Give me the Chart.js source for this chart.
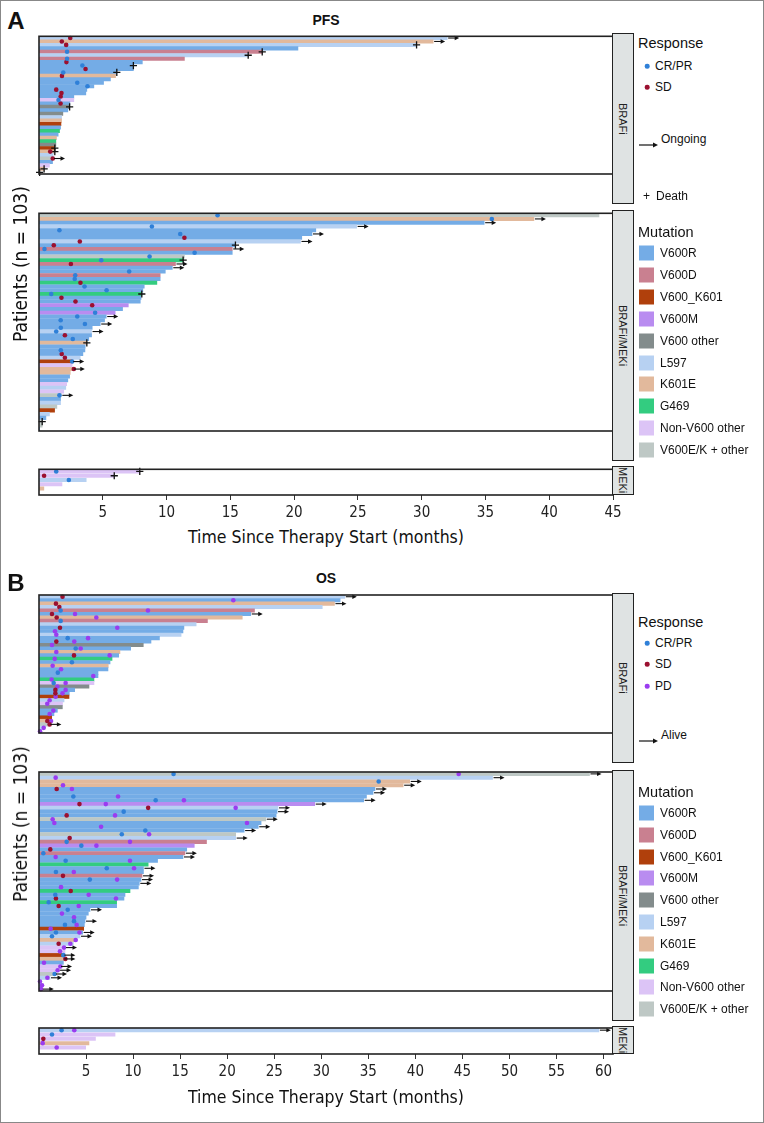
<!DOCTYPE html>
<html>
<head>
<meta charset="utf-8">
<title>Swimmer plot - PFS / OS</title>
<script src="https://cdn.jsdelivr.net/npm/chart.js@4.4.1/dist/chart.umd.min.js"></script>
<style>
  body { margin: 0; background: #fff; }
  #fig { position: relative; width: 764px; height: 1123px; font-family: 'Liberation Sans', Arial, sans-serif; color: #111; overflow: hidden; }
  #frame { position: absolute; left: 0; top: 0; width: 764px; height: 1123px; box-sizing: border-box; border: 1px solid #888; pointer-events: none; }
  .abs { position: absolute; }
  .strip { position: absolute; box-sizing: border-box; background: #dfe3e3; border: 1.6px solid #222; writing-mode: vertical-rl; display: flex; align-items: center; justify-content: center; font-size: 11px; color: #222; }
  .letter { position: absolute; font-weight: bold; font-size: 24px; transform: translate(-50%, -50%); }
  .ptitle { position: absolute; font-weight: bold; font-size: 14px; transform: translate(-50%, -50%); }
  .narrow { font-family: 'Liberation Sans Narrow', 'DejaVu Sans Condensed', sans-serif; }
  .ytitle { position: absolute; font-size: 19px; transform: translate(-50%, -50%) rotate(-90deg); white-space: nowrap; }
  .xtitle { position: absolute; font-size: 17.5px; transform: translate(-50%, -50%); white-space: nowrap; }
  .lg-title { position: absolute; font-size: 14.5px; transform: translateY(-50%); white-space: nowrap; }
  .lg-text { position: absolute; font-size: 12px; transform: translateY(-50%); white-space: nowrap; }
  .lg-dot { position: absolute; width: 4.6px; height: 4.6px; border-radius: 50%; transform: translate(-50%, -50%); }
  .lg-sw { position: absolute; width: 15px; height: 15px; transform: translateY(-50%); }
</style>
</head>
<body>
<div id="fig"><div id="frame"></div></div>
<script>
// mutation groups (code -> label, colour)
const mutCodes = ['R', 'D', 'K', 'M', 'O', 'L', 'E', 'G', 'N', 'X'];
const mutLabels = ['V600R', 'V600D', 'V600_K601', 'V600M', 'V600 other', 'L597', 'K601E', 'G469', 'Non-V600 other', 'V600E/K + other'];
const mutColors = ['#74ace6', '#c98090', '#b0400c', '#b98cf0', '#838c8c', '#b7d1f2', '#e2b99c', '#33cc80', '#dcc4f6', '#bec8c5'];

const respLabels = ['CR/PR', 'SD', 'PD'];
const respColors = ['#2f80d8', '#9b1030', '#9a3cf0'];

const xTicksPFS = [5, 10, 15, 20, 25, 30, 35, 40, 45];
const xMaxPFS = 45;
const xTicksOS = [5, 10, 15, 20, 25, 30, 35, 40, 45, 50, 55, 60];
const xMaxOS = 61;

// ---------- PFS ----------
const pfsBrafiMut = ['L','E','L','R','D','L','D','R','R','R', 'R','E','R','R','R','R','R','R','N','R',
                     'O','R','O','L','E','K','R','G','R','E', 'G','O','K','E','L','X','R','N','E','L'];
const pfsBrafiTime = [32.0,30.9,29.6,20.3,17.5,16.4,11.4,8.1,7.4,7.4, 6.1,6.0,5.6,5.06,4.3,3.75,3.67,2.73,2.73,2.42,
                      2.4,2.26,1.87,1.77,1.77,1.72,1.69,1.61,1.5,1.37, 1.32,1.32,1.24,1.24,1.11,1.1,1.06,0.82,0.4,0.05];
const pfsBrafiArrow = [1, 2, 36];
const pfsBrafiDeath = [3, 5, 6, 9, 11, 21, 33, 34, 39, 40];
const pfsBrafiDots = [[1,2.45,'SD'],[2,1.79,'SD'],[3,2.13,'SD'],[5,2.2,'CR/PR'],[7,2.2,'CR/PR'],[8,2.15,'SD'],
  [9,3.4,'CR/PR'],[10,3.65,'SD'],[11,1.9,'CR/PR'],[12,1.8,'SD'],[14,3.0,'CR/PR'],[15,3.8,'CR/PR'],[16,1.35,'SD'],
  [17,1.76,'SD'],[18,1.7,'SD'],[19,1.53,'CR/PR'],[20,1.69,'SD'],[34,0.88,'SD'],[36,1.08,'SD']];

const pfsComboMut = ['X','E','R','L','R','R','R','L','R','D', 'R','X','G','D','R','R','D','R','G','R',
                     'R','G','R','R','M','R','M','R','R','R', 'R','L','R','R','E','R','R','R','L','K',
                     'N','E','E','R','R','N','L','N','X','R', 'L','X','K','L','R','X','X','R'];
const pfsComboTime = [43.9,38.8,34.9,24.9,21.7,21.4,20.6,20.5,15.4,15.15, 15.15,11.4,11.3,10.7,10.45,9.9,9.5,9.5,9.24,8.25,
                      8.14,8.06,8.0,7.94,7.0,6.55,5.97,5.27,5.14,4.8, 4.17,4.12,4.12,3.9,3.75,3.62,3.6,3.44,3.23,2.6,
                      2.6,2.65,2.45,2.4,2.26,2.17,2.1,1.94,1.75,1.69, 1.69,1.4,1.22,0.82,0.54,0.25,0.25,0.05];
const pfsComboArrow = [2, 3, 4, 6, 8, 10, 14, 15, 28, 30, 32, 40, 42, 49];
const pfsComboDeath = [9, 13, 22, 35, 56];
const pfsComboDots = [[1,14.0,'CR/PR'],[2,35.5,'CR/PR'],[4,8.85,'CR/PR'],[5,1.6,'CR/PR'],[6,11.07,'CR/PR'],[7,11.4,'SD'],
  [8,3.2,'SD'],[9,1.16,'SD'],[10,0.43,'CR/PR'],[11,12.2,'CR/PR'],[12,8.67,'CR/PR'],[13,4.88,'CR/PR'],[14,2.5,'SD'],
  [16,7.07,'CR/PR'],[17,2.84,'CR/PR'],[18,2.8,'CR/PR'],[19,3.25,'SD'],[20,3.57,'CR/PR'],[21,5.3,'CR/PR'],[22,0.96,'CR/PR'],
  [23,1.76,'SD'],[24,2.86,'SD'],[25,4.17,'SD'],[27,4.4,'CR/PR'],[28,3.0,'CR/PR'],[29,1.7,'CR/PR'],[30,3.6,'CR/PR'],
  [31,1.71,'CR/PR'],[32,1.35,'CR/PR'],[33,2.03,'SD'],[34,2.65,'CR/PR'],[37,1.71,'CR/PR'],[38,1.78,'SD'],[39,2.03,'SD'],
  [40,2.6,'CR/PR'],[42,2.73,'SD'],[49,1.6,'CR/PR']];

const pfsMekiMut = ['N','N','L','N','E'];
const pfsMekiTime = [7.9, 5.9, 3.7, 1.8, 0.38];
const pfsMekiArrow = [];
const pfsMekiDeath = [1, 2];
const pfsMekiDots = [[1,1.35,'CR/PR'],[2,0.4,'SD'],[3,2.34,'CR/PR']];

// ---------- OS ----------
const osBrafiMut = ['L','R','E','L','D','R','E','D','L','R', 'R','L','R','R','O','R','E','R','G','R',
                    'E','R','R','R','G','N','O','R','R','K', 'L','N','O','R','R','K','E','X','L','N'];
const osBrafiTime = [32.5,32.0,31.4,30.1,22.9,22.5,21.6,17.9,16.7,15.4, 15.3,15.1,12.8,11.9,11.08,9.74,8.6,8.47,7.76,7.55,
                     7.36,7.33,6.27,6.27,5.84,5.84,5.31,3.79,3.22,3.19, 2.66,2.5,2.48,1.95,1.59,1.35,0.82,1.1,0.39,0.1];
const osBrafiArrow = [1, 3, 6, 38];
const osBrafiDeath = [];
const osBrafiDots = [[1,2.5,'SD'],[2,20.65,'PD'],[3,1.8,'SD'],[4,2.16,'SD'],[5,2.3,'CR/PR'],[5,11.58,'PD'],[6,1.38,'SD'],
  [6,3.83,'PD'],[7,1.88,'SD'],[7,6.09,'PD'],[8,2.3,'CR/PR'],[10,2.23,'SD'],[10,8.32,'PD'],[11,1.7,'PD'],[12,1.84,'PD'],
  [13,3.05,'CR/PR'],[13,5.21,'PD'],[14,1.84,'SD'],[14,3.75,'PD'],[15,1.38,'PD'],[16,3.9,'CR/PR'],[16,4.43,'PD'],
  [17,1.84,'PD'],[18,3.72,'SD'],[18,7.51,'PD'],[19,1.67,'PD'],[20,3.5,'CR/PR'],[21,1.45,'PD'],[22,2.34,'PD'],
  [23,2.0,'CR/PR'],[24,5.77,'PD'],[25,1.34,'PD'],[26,1.56,'CR/PR'],[26,2.83,'PD'],[27,1.95,'PD'],[28,1.74,'SD'],
  [28,2.83,'PD'],[29,1.74,'SD'],[29,2.5,'PD'],[30,1.77,'PD'],[31,1.13,'PD'],[32,0.88,'PD'],[34,1.52,'PD'],[35,1.13,'PD'],
  [37,0.88,'SD'],[37,1.28,'PD'],[38,1.13,'SD'],[39,0.5,'PD'],[40,0.11,'PD']];

const osComboMut = ['X','L','E','E','R','R','R','R','M','L', 'R','R','X','R','R','R','X','L','D','M',
                    'R','D','R','R','G','R','R','D','R','R', 'R','G','R','R','G','R','R','R','R','R',
                    'R','K','R','L','E','L','N','N','K','E', 'R','N','N','X','L','R','R','R'];
const osComboTime = [58.5,48.2,39.4,38.7,35.7,35.5,34.8,34.5,29.3,25.4, 25.3,25.2,24.1,23.6,23.3,21.8,20.9,20.9,17.8,16.5,
                     15.7,15.5,15.3,12.6,11.6,11.1,11.1,10.95,10.84,10.66, 10.56,9.67,9.14,9.03,8.25,8.25,5.42,5.24,5.0,4.89,
                     4.82,4.75,4.64,4.36,3.9,3.65,2.76,2.76,2.59,2.59, 2.59,2.23,2.13,1.7,1.17,0.1,0.3,0.3];
const osComboArrow = [1, 2, 3, 4, 5, 6, 8, 9, 10, 11, 13, 15, 16, 18, 22, 23, 26, 28, 29, 30, 37, 40, 43, 44, 47, 49, 50, 52, 53, 54, 55, 58];
const osComboDeath = [];
const osComboDots = [[1,14.3,'CR/PR'],[1,44.6,'PD'],[2,1.77,'PD'],[3,36.1,'CR/PR'],[4,2.55,'PD'],[5,1.88,'SD'],[5,3.5,'PD'],
  [7,3.65,'CR/PR'],[7,8.4,'PD'],[8,12.4,'CR/PR'],[8,15.4,'PD'],[9,4.3,'SD'],[9,7.1,'PD'],[10,11.6,'SD'],[10,20.9,'PD'],
  [11,9.0,'CR/PR'],[12,2.94,'SD'],[12,8.08,'PD'],[13,1.45,'PD'],[14,1.63,'PD'],[14,22.1,'PD'],[15,6.6,'PD'],[16,11.3,'CR/PR'],
  [17,8.8,'CR/PR'],[17,11.7,'PD'],[18,3.26,'SD'],[19,2.94,'CR/PR'],[19,9.67,'PD'],[20,4.5,'CR/PR'],[20,6.1,'PD'],[21,1.2,'SD'],
  [22,0.46,'CR/PR'],[23,1.77,'PD'],[24,2.83,'CR/PR'],[24,9.67,'PD'],[26,7.2,'CR/PR'],[26,10.1,'PD'],[27,1.8,'CR/PR'],
  [27,3.7,'PD'],[28,2.55,'SD'],[29,5.4,'CR/PR'],[29,8.3,'PD'],[31,2.34,'PD'],[32,3.37,'SD'],[33,1.73,'CR/PR'],[33,5.28,'PD'],
  [34,1.8,'SD'],[34,8.18,'PD'],[35,1.03,'CR/PR'],[36,2.09,'SD'],[36,4.22,'PD'],[37,3.05,'CR/PR'],[38,2.44,'PD'],[39,3.72,'PD'],
  [40,3.72,'CR/PR'],[41,2.76,'CR/PR'],[41,4.0,'PD'],[42,1.24,'PD'],[43,1.8,'CR/PR'],[43,4.3,'PD'],[44,1.38,'CR/PR'],
  [45,3.9,'PD'],[46,2.09,'SD'],[46,3.33,'PD'],[47,2.66,'PD'],[48,2.23,'PD'],[49,2.59,'CR/PR'],[50,2.8,'SD'],[51,0.53,'PD'],
  [52,2.27,'PD'],[53,1.98,'PD'],[54,1.66,'CR/PR'],[55,0.89,'PD'],[56,0.1,'PD'],[57,0.32,'PD'],[58,0.21,'PD']];

const osMekiMut = ['L','N','N','E','N'];
const osMekiTime = [59.5, 8.08, 6.0, 5.31, 4.96];
const osMekiArrow = [1];
const osMekiDeath = [];
const osMekiDots = [[1,2.4,'CR/PR'],[1,3.75,'PD'],[2,1.38,'CR/PR'],[3,0.46,'SD'],[4,0.39,'PD'],[5,1.88,'PD']];

const fig = document.getElementById('fig');
const narrowFont = "'Liberation Sans Narrow', 'DejaVu Sans Condensed', sans-serif";

function put(cls, text, x, y) {
    const d = document.createElement('div');
    d.className = cls;
    d.textContent = text;
    d.style.left = x + 'px';
    d.style.top = y + 'px';
    fig.appendChild(d);
    return d;
}

// border + "ongoing / alive" arrows drawn from the scales
const facetDecor = {
    id: 'facetDecor',
    afterDatasetsDraw(chart, args, opts) {
        const { ctx, scales: { x, y } } = chart;
        ctx.save();
        ctx.strokeStyle = '#111';
        ctx.fillStyle = '#111';
        ctx.lineWidth = 1.1;
        (opts.arrows || []).forEach(r => {
            const x0 = x.getPixelForValue(opts.times[r - 1]) + 1;
            const yy = y.getPixelForValue(r - 1);
            ctx.beginPath();
            ctx.moveTo(x0, yy);
            ctx.lineTo(x0 + 8, yy);
            ctx.stroke();
            ctx.beginPath();
            ctx.moveTo(x0 + 11, yy);
            ctx.lineTo(x0 + 6.5, yy - 2.2);
            ctx.lineTo(x0 + 6.5, yy + 2.2);
            ctx.closePath();
            ctx.fill();
        });
        ctx.restore();
    },
    afterDraw(chart) {
        const { ctx, chartArea: a } = chart;
        ctx.save();
        ctx.strokeStyle = '#222';
        ctx.lineWidth = 1.6;
        ctx.strokeRect(a.left, a.top, a.right - a.left, a.bottom - a.top);
        ctx.restore();
    }
};

function facet(box, mut, time, dots, arrows, deaths, xMax, xTicks, padRows, stripText) {
    const withAxis = !!xTicks;
    const wrap = document.createElement('div');
    wrap.className = 'abs';
    wrap.style.left = (box.left - 20) + 'px';
    wrap.style.top = (box.top - 2) + 'px';
    wrap.style.width = (box.width + 40) + 'px';
    wrap.style.height = (box.height + 2 + (withAxis ? 30 : 2)) + 'px';
    const cv = document.createElement('canvas');
    wrap.appendChild(cv);
    fig.appendChild(wrap);

    const labels = time.map((_, i) => String(i + 1));
    for (let i = 0; i < padRows; i++) labels.push('pad' + i);

    const datasets = respLabels.map((r, k) => ({
        type: 'scatter',
        order: 0,
        data: dots.filter(d => d[2] === r).map(d => ({ x: d[1], y: String(d[0]) })),
        backgroundColor: respColors[k],
        borderWidth: 0,
        pointRadius: 2.3,
        clip: false
    }));
    datasets.push({
        type: 'scatter',
        order: 0,
        data: deaths.map(r => ({ x: time[r - 1], y: String(r) })),
        pointStyle: 'cross',
        pointRadius: 3.6,
        borderColor: '#111',
        borderWidth: 1.3,
        clip: false
    });
    datasets.push({
        type: 'bar',
        order: 1,
        indexAxis: 'y',
        data: time,
        backgroundColor: mut.map(m => mutColors[mutCodes.indexOf(m)]),
        barThickness: 3.4,
        borderWidth: 0
    });

    new Chart(cv, {
        type: 'bar',
        data: { labels: labels, datasets: datasets },
        options: {
            responsive: true,
            maintainAspectRatio: false,
            animation: false,
            events: [],
            layout: { padding: { left: 20, right: 20, top: 2, bottom: withAxis ? 0 : 2 } },
            scales: {
                x: {
                    type: 'linear',
                    min: 0,
                    max: xMax,
                    offset: false,
                    display: withAxis,
                    afterBuildTicks: s => { if (xTicks) s.ticks = xTicks.map(v => ({ value: v })); },
                    afterFit: s => { s.height = 30; },
                    grid: { offset: false, drawOnChartArea: false, drawTicks: true, tickLength: 5, color: '#333', lineWidth: 1 },
                    border: { display: false },
                    ticks: { color: '#222', font: { family: narrowFont, size: 15 }, padding: 4, maxRotation: 0, autoSkip: false }
                },
                y: { type: 'category', offset: true, display: false }
            },
            plugins: {
                legend: { display: false },
                tooltip: { enabled: false },
                facetDecor: { arrows: arrows, times: time }
            }
        },
        plugins: [facetDecor]
    });

    const s = put('strip', stripText, 612, box.top);
    s.style.width = '22px';
    s.style.height = box.height + 'px';
}

function legend(items) {
    // items: list of [kind, text, y, colour]
    items.forEach(([kind, text, y, color]) => {
        if (kind === 'title') put('lg-title', text, 638, y);
        if (kind === 'dot') {
            const d = put('lg-dot', '', 647, y);
            d.style.background = color;
            put('lg-text', text, 655, y);
        }
        if (kind === 'arrow') {
            const d = document.createElement('div');
            d.className = 'abs';
            d.style.left = '639px';
            d.style.top = (y - 4) + 'px';
            d.innerHTML = '<svg width="22" height="8"><line x1="0" y1="4" x2="15" y2="4" stroke="#111" stroke-width="1.2"/><polygon points="19,4 14,1.6 14,6.4" fill="#111"/></svg>';
            fig.appendChild(d);
            put('lg-text', text, 661, y);
        }
        if (kind === 'plus') {
            put('lg-text', '+', 643, y);
            put('lg-text', text, 656, y);
        }
        if (kind === 'swatch') {
            const d = put('lg-sw', '', 639, y);
            d.style.background = color;
            put('lg-text', text, 660, y);
        }
    });
}

// ---- panel A ----
put('letter', 'A', 16, 21);
put('ptitle', 'PFS', 326, 20);
facet({ left: 39, top: 33, width: 574, height: 171 }, pfsBrafiMut, pfsBrafiTime, pfsBrafiDots, pfsBrafiArrow, pfsBrafiDeath, xMaxPFS, null, 0, 'BRAFi');
facet({ left: 39, top: 210, width: 574, height: 251 }, pfsComboMut, pfsComboTime, pfsComboDots, pfsComboArrow, pfsComboDeath, xMaxPFS, null, 0, 'BRAFi/MEKi');
facet({ left: 39, top: 466, width: 574, height: 29 }, pfsMekiMut, pfsMekiTime, pfsMekiDots, pfsMekiArrow, pfsMekiDeath, xMaxPFS, xTicksPFS, 1, 'MEKi');
put('ytitle narrow', 'Patients (n = 103)', 20, 264);
put('xtitle narrow', 'Time Since Therapy Start (months)', 326, 537);

const legA = [['title', 'Response', 43], ['dot', 'CR/PR', 66, respColors[0]], ['dot', 'SD', 87, respColors[1]],
              ['arrow', 'Ongoing', 139], ['plus', 'Death', 196], ['title', 'Mutation', 232]];
mutLabels.forEach((m, i) => legA.push(['swatch', m, 253 + i * 21.9, mutColors[i]]));
legend(legA);

// ---- panel B ----
put('letter', 'B', 16, 583);
put('ptitle', 'OS', 326, 578);
facet({ left: 39, top: 593, width: 574, height: 170 }, osBrafiMut, osBrafiTime, osBrafiDots, osBrafiArrow, osBrafiDeath, xMaxOS, null, 0, 'BRAFi');
facet({ left: 39, top: 770, width: 574, height: 251 }, osComboMut, osComboTime, osComboDots, osComboArrow, osComboDeath, xMaxOS, null, 0, 'BRAFi/MEKi');
facet({ left: 39, top: 1026, width: 574, height: 28 }, osMekiMut, osMekiTime, osMekiDots, osMekiArrow, osMekiDeath, xMaxOS, xTicksOS, 1, 'MEKi');
put('ytitle narrow', 'Patients (n = 103)', 20, 824);
put('xtitle narrow', 'Time Since Therapy Start (months)', 326, 1097);

const legB = [['title', 'Response', 622], ['dot', 'CR/PR', 643, respColors[0]], ['dot', 'SD', 664, respColors[1]],
              ['dot', 'PD', 686, respColors[2]], ['arrow', 'Alive', 735], ['title', 'Mutation', 792]];
mutLabels.forEach((m, i) => legB.push(['swatch', m, 813 + i * 21.8, mutColors[i]]));
legend(legB);
</script>
</body>
</html>
